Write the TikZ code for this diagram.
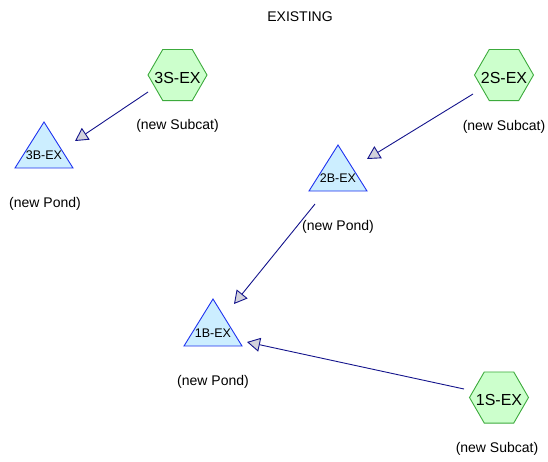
\documentclass[tikz,border=0pt]{standalone}
\usepackage{fontspec}
\setmainfont{Liberation Sans}
\usetikzlibrary{shapes.geometric,arrows.meta}
\definecolor{hexfill}{RGB}{204,255,204}
\definecolor{hexline}{RGB}{60,170,60}
\definecolor{trifill}{RGB}{204,238,255}
\definecolor{triline}{RGB}{30,50,240}
\definecolor{arrline}{RGB}{20,20,140}
\definecolor{tipfill}{RGB}{210,210,220}
\begin{document}
\begin{tikzpicture}[x=1pt,y=-1pt,
 hexa/.style={regular polygon, regular polygon sides=6, minimum size=59pt, inner sep=0pt, draw=hexline, fill=hexfill, line width=0.9pt},
 hextext/.style={font=\fontsize{16}{18}\selectfont, inner sep=0pt},
 lbl/.style={font=\fontsize{14}{16}\selectfont, inner sep=0pt},
 tritext/.style={font=\fontsize{12.5}{14}\selectfont, inner sep=0pt},
 tri/.style={draw=triline, fill=trifill, line width=0.9pt, line join=miter},
 arr/.style={draw=arrline, line width=0.9pt, -{Triangle[length=13pt,width=14pt,fill=tipfill]}}
]
\useasboundingbox (0,0) rectangle (548,461);

\node[lbl] (title) at (300,17) {EXISTING};

% subcatchments (hexagons)
\node[hexa] (s3) at (177.5,75) {};
\node[hextext] (s3t) at (177.5,78) {3S-EX};
\node[lbl] (s3l) at (177.5,126) {(new Subcat)};

\node[hexa] (s2) at (504,75) {};
\node[hextext] (s2t) at (504,77.5) {2S-EX};
\node[lbl] (s2l) at (504,127) {(new Subcat)};

\node[hexa] (s1) at (499,397.5) {};
\node[hextext] (s1t) at (499,400) {1S-EX};
\node[lbl] (s1l) at (497,449) {(new Subcat)};

% ponds (triangles)
\draw[tri] (44,122) -- (73,168) -- (15,168) -- cycle;
\node[tritext] (b3) at (44,155) {3B-EX};
\node[lbl] (b3l) at (45,204) {(new Pond)};

\draw[tri] (338,145) -- (367,191) -- (309,191) -- cycle;
\node[tritext] (b2) at (338,178) {2B-EX};
\node[lbl] (b2l) at (338,227) {(new Pond)};

\draw[tri] (213,299) -- (242,346) -- (184,346) -- cycle;
\node[tritext] (b1) at (213,333) {1B-EX};
\node[lbl] (b1l) at (213,382) {(new Pond)};

% connector ends
\coordinate (a1s) at (148,92);  \coordinate (a1e) at (75,141);
\coordinate (a2s) at (473,94);  \coordinate (a2e) at (367,159);
\coordinate (a3s) at (315,204); \coordinate (a3e) at (234,304);
\coordinate (a4s) at (464,389); \coordinate (a4e) at (247,342);

\draw[arr] (a1s) -- (a1e);
\draw[arr] (a2s) -- (a2e);
\draw[arr] (a3s) -- (a3e);
\draw[arr] (a4s) -- (a4e);
\end{tikzpicture}
\end{document}
